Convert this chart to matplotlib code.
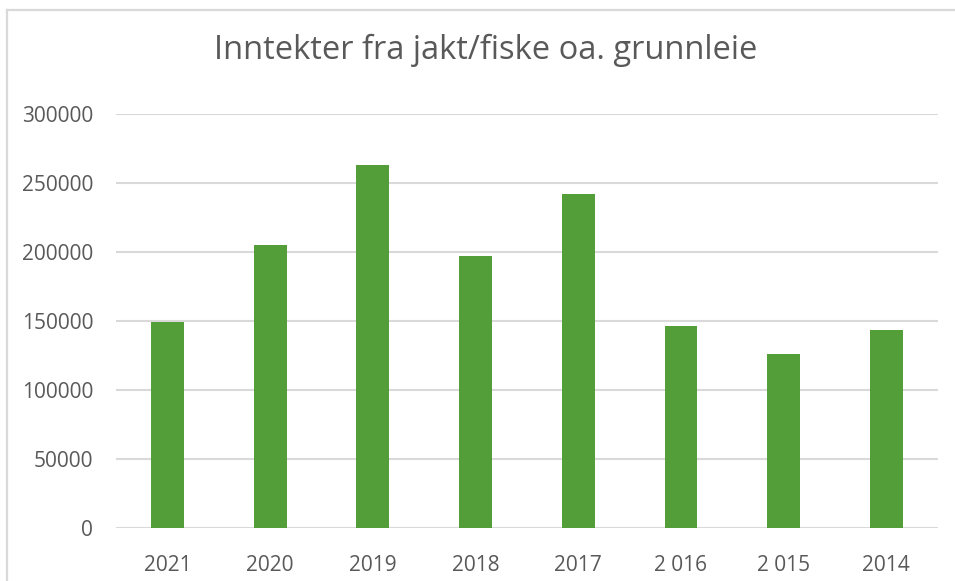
import matplotlib.pyplot as plt
from matplotlib.lines import Line2D

years = ["2021", "2020", "2019", "2018", "2017", "2 016", "2 015", "2014"]
income = [149000, 205000, 262500, 196700, 241500, 146600, 125900, 143400]
y_ticks = [0, 50000, 100000, 150000, 200000, 250000, 300000]

plt.rcParams['font.family'] = ['Open Sans', 'DejaVu Sans']

fig = plt.figure(figsize=(9.55, 5.81), dpi=100)
ax = fig.add_axes([0.1215, 0.0907, 0.8604, 0.7139])

x = range(len(years))
ax.bar(x, income, width=0.32, color='#549E39', zorder=3)

ax.set_xlim(-0.5, len(years) - 0.5)
ax.set_ylim(0, 300000)
ax.set_yticks(y_ticks)
ax.set_yticklabels([str(v) for v in y_ticks])
ax.set_xticks(list(x))
ax.set_xticklabels(years)

ax.grid(axis='y', color='#d9d9d9', linewidth=1.5, zorder=0)
for s in ax.spines.values():
    s.set_visible(False)
ax.tick_params(axis='both', length=0, colors='#595959', labelsize=15)
ax.tick_params(axis='y', pad=16.5)
ax.tick_params(axis='x', pad=19)

fig.text(0.509, 0.914, "Inntekter fra jakt/fiske oa. grunnleie", ha='center', va='center',
         fontsize=23.5, color='#595959')

# chart frame (left and top edges only visible)
fig.add_artist(Line2D([7 / 955, 7 / 955], [0, 1 - 9.5 / 581], color='#d9d9d9', linewidth=1.6))
fig.add_artist(Line2D([7 / 955, 1], [1 - 9.5 / 581, 1 - 9.5 / 581], color='#d9d9d9', linewidth=1.6))

fig.savefig('out.png', dpi=100)
